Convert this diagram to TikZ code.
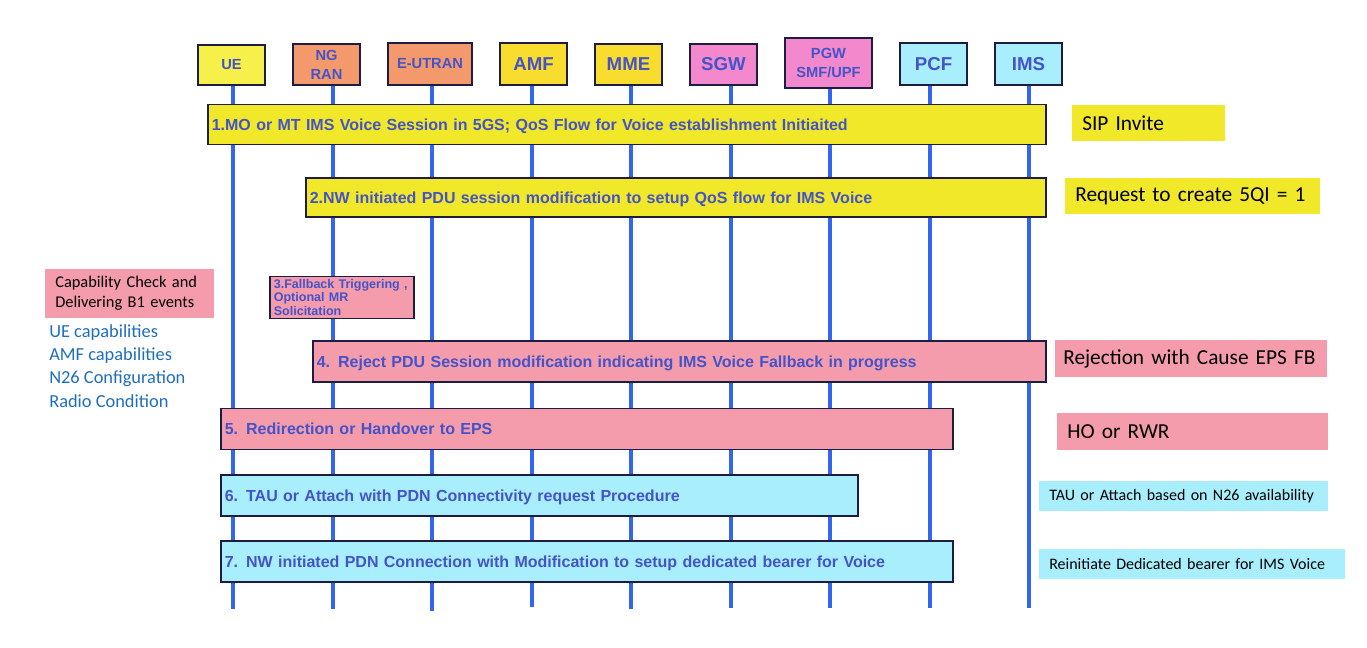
\documentclass[tikz,border=0pt]{standalone}
\usepackage{fontspec}
\setmainfont{Liberation Sans}
\newfontfamily\calfont{Carlito}
\usetikzlibrary{positioning}

\definecolor{txtblue}{HTML}{4454C8}
\definecolor{lifeblue}{HTML}{3366EE}
\definecolor{boxline}{HTML}{1C1C44}
\definecolor{hdryel}{HTML}{F8F04A}
\definecolor{hdrgold}{HTML}{F8DC2E}
\definecolor{hdrsalmon}{HTML}{F4996C}
\definecolor{hdrpink}{HTML}{F488CC}
\definecolor{hdrcyan}{HTML}{A8EEFC}
\definecolor{msgyel}{HTML}{F0E828}
\definecolor{msgpink}{HTML}{F49CAC}
\definecolor{msgcyan}{HTML}{A8EEFC}
\definecolor{listblue}{HTML}{1E6EBE}

\tikzset{
  hdr/.style={draw=boxline, line width=1.2pt, text=txtblue, align=center, inner sep=0pt},
  life/.style={draw=lifeblue, line width=3pt},
  msgbox/.style={draw=boxline, line width=1.2pt, text=txtblue, anchor=west, align=left,
    inner xsep=3pt, font=\fontsize{12}{14}\selectfont\bfseries},
  msg/.style={msgbox, text height=9.6pt, text depth=1pt},
  note/.style={anchor=west, align=left, inner xsep=7.5pt, text=black}
}

\begin{document}
\begin{tikzpicture}[x=0.75pt, y=-0.75pt]
      \useasboundingbox (0,0) rectangle (1367,647);

      % headers
      \node[hdr, fill=hdryel, minimum width=50.25pt, minimum height=30pt, font=\fontsize{11}{13}\selectfont\bfseries] (ue) at (231.5,65) {UE};
      \node[hdr, fill=hdrsalmon, minimum width=50.25pt, minimum height=30.75pt, font=\fontsize{11}{14.25}\selectfont\bfseries] (ngran) at (326.5,64.5) {NG\\RAN};
      \node[hdr, fill=hdrsalmon, minimum width=63pt, minimum height=31.5pt, font=\fontsize{11}{13}\selectfont\bfseries] (eutran) at (430,64) {E-UTRAN};
      \node[hdr, fill=hdrgold, minimum width=50.25pt, minimum height=31.5pt, font=\fontsize{14}{16}\selectfont\bfseries] (amf) at (533.5,64) {AMF};
      \node[hdr, fill=hdrgold, minimum width=50.25pt, minimum height=30.75pt, font=\fontsize{14}{16}\selectfont\bfseries] (mme) at (628.5,64.5) {MME};
      \node[hdr, fill=hdrpink, minimum width=50.25pt, minimum height=30.75pt, font=\fontsize{14}{16}\selectfont\bfseries] (sgw) at (723.5,64.5) {SGW};
      \node[hdr, fill=hdrpink, minimum width=65.25pt, minimum height=37.5pt, font=\fontsize{11}{14.25}\selectfont\bfseries] (pgw) at (828.5,63) {PGW\\SMF/UPF};
      \node[hdr, fill=hdrcyan, minimum width=50.25pt, minimum height=31.5pt, font=\fontsize{14}{16}\selectfont\bfseries] (pcf) at (933.5,64) {PCF};
      \node[hdr, fill=hdrcyan, minimum width=50.25pt, minimum height=31.5pt, font=\fontsize{14}{16}\selectfont\bfseries] (ims) at (1028.5,64) {IMS};

      % lifelines
      \coordinate (ueend) at (233,609);
      \coordinate (ngranend) at (333,609);
      \coordinate (eutranend) at (432,611);
      \coordinate (amfend) at (532,607);
      \coordinate (mmeend) at (631,609);
      \coordinate (sgwend) at (731,608);
      \coordinate (pgwend) at (830,608);
      \coordinate (pcfend) at (930,608);
      \coordinate (imsend) at (1029,608);

      \draw[life] (ue.south -| ueend) -- (ueend);
      \draw[life] (ngran.south -| ngranend) -- (ngranend);
      \draw[life] (eutran.south -| eutranend) -- (eutranend);
      \draw[life] (amf.south -| amfend) -- (amfend);
      \draw[life] (mme.south -| mmeend) -- (mmeend);
      \draw[life] (sgw.south -| sgwend) -- (sgwend);
      \draw[life] (pgw.south -| pgwend) -- (pgwend);
      \draw[life] (pcf.south -| pcfend) -- (pcfend);
      \draw[life] (ims.south -| imsend) -- (imsend);

      % steps
      \node[msg, fill=msgyel, text width=622.5pt, minimum height=30pt] (m1) at (207,124.5)
        {1.MO or MT IMS Voice Session in 5GS; QoS Flow for Voice establishment Initiaited};
      \node[msg, fill=msgyel, text width=549pt, minimum height=29.25pt] (m2) at (305,197.5)
        {2.NW initiated PDU session modification to setup QoS flow for IMS Voice};
      \node[msgbox, fill=msgpink, anchor=north west, text width=102pt, minimum height=31.5pt, inner ysep=0.5pt,
        font=\fontsize{9.4}{10.1}\selectfont\bfseries] (m3) at (269,275.5)
        {3.Fallback Triggering ,\\Optional MR\\Solicitation};
      \node[msg, fill=msgpink, text width=543.75pt, minimum height=30.75pt] (m4) at (312,361.5)
        {4. Reject PDU Session modification indicating IMS Voice Fallback in progress};
      \node[msg, fill=msgpink, text width=543pt, minimum height=30.75pt] (m5) at (220,429)
        {5. Redirection or Handover to EPS};
      \node[msg, fill=msgcyan, text width=471.75pt, minimum height=30.75pt] (m6) at (220,495.5)
        {6. TAU or Attach with PDN Connectivity request Procedure};
      \node[msg, fill=msgcyan, text width=543pt, minimum height=30.75pt] (m7) at (220,561.5)
        {7. NW initiated PDN Connection with Modification to setup dedicated bearer for Voice};

      % side notes
      \node[note, fill=msgyel, text width=99.75pt, minimum height=27pt, font=\calfont\fontsize{16}{18}\selectfont] (n1) at (1072,123) {SIP Invite};
      \node[note, fill=msgyel, text width=176.25pt, minimum height=27pt, font=\calfont\fontsize{16}{18}\selectfont] (n2) at (1065,196) {Request to create 5QI = 1};
      \node[note, fill=msgpink, inner xsep=6pt, text width=192pt, minimum height=27.75pt, font=\calfont\fontsize{16}{18}\selectfont] (n3) at (1055,358.5) {Rejection with Cause EPS FB};
      \node[note, fill=msgpink, text width=188.25pt, minimum height=27.75pt, font=\calfont\fontsize{16}{18}\selectfont] (n4) at (1057,431.5) {HO or RWR};
      \node[note, fill=msgcyan, text width=201.75pt, minimum height=22.5pt, font=\calfont\fontsize{12}{14}\selectfont] (n5) at (1039,496) {TAU or Attach based on N26 availability};
      \node[note, fill=msgcyan, text width=214.5pt, minimum height=22.5pt, font=\calfont\fontsize{12}{14}\selectfont] (n6) at (1039,564) {Reinitiate Dedicated bearer for IMS Voice};

      \node[note, fill=msgpink, text width=111.75pt, minimum height=36.75pt, font=\calfont\fontsize{12.3}{15}\selectfont] (capchk) at (45,293.5)
        {Capability Check and\\Delivering B1 events};
      \node[anchor=north west, align=left, inner sep=0pt, text=listblue, font=\calfont\fontsize{13.8}{17.5}\selectfont] (caplist) at (49,324)
        {UE capabilities\\AMF capabilities\\N26 Configuration\\Radio Condition};

\end{tikzpicture}
\end{document}
